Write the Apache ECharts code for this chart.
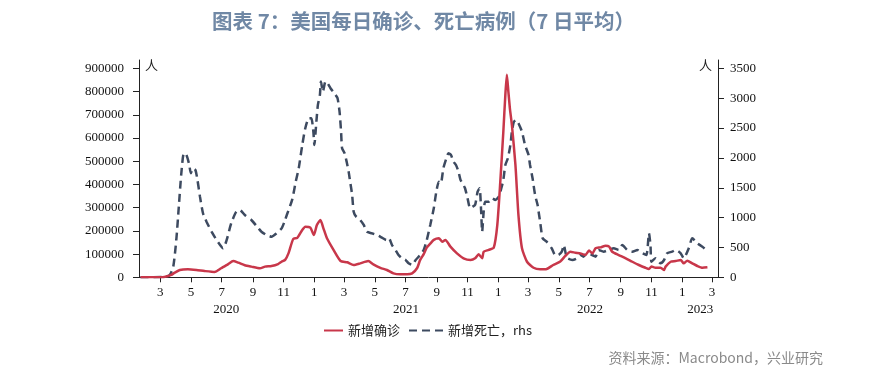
<!DOCTYPE html>
<html><head><meta charset="utf-8">
<script src="https://cdn.jsdelivr.net/npm/echarts@6/dist/echarts.min.js"></script>
<style>html,body{margin:0;padding:0;background:#fff}#c{width:885px;height:383px}</style>
</head><body><div id="c"></div>
<script>
const caseDates = ['2020-01-22','2020-02-15','2020-03-05','2020-03-17','2020-03-23','2020-03-30','2020-04-09','2020-04-25','2020-05-12','2020-05-28','2020-06-17','2020-06-30','2020-07-14','2020-07-24','2020-08-03','2020-08-16','2020-08-29','2020-09-15','2020-09-25','2020-10-08','2020-10-21','2020-10-28','2020-11-04','2020-11-11','2020-11-20','2020-11-28','2020-12-08','2020-12-14','2020-12-24','2020-12-31','2021-01-06','2021-01-13','2021-01-19','2021-01-26','2021-02-08','2021-02-22','2021-03-07','2021-03-20','2021-04-02','2021-04-18','2021-04-28','2021-05-12','2021-05-25','2021-06-07','2021-06-20','2021-07-04','2021-07-14','2021-07-24','2021-07-30','2021-08-06','2021-08-12','2021-08-19','2021-08-26','2021-09-05','2021-09-12','2021-09-18','2021-09-28','2021-10-11','2021-10-24','2021-11-07','2021-11-16','2021-11-23','2021-11-30','2021-12-03','2021-12-13','2021-12-23','2021-12-30','2022-01-05','2022-01-11','2022-01-15','2022-01-18','2022-01-21','2022-01-24','2022-01-28','2022-02-04','2022-02-10','2022-02-17','2022-02-27','2022-03-12','2022-03-25','2022-04-07','2022-04-20','2022-05-04','2022-05-14','2022-05-24','2022-06-03','2022-06-13','2022-06-23','2022-06-30','2022-07-07','2022-07-13','2022-07-23','2022-08-02','2022-08-09','2022-08-15','2022-08-28','2022-09-11','2022-09-24','2022-10-07','2022-10-20','2022-10-27','2022-11-01','2022-11-09','2022-11-19','2022-11-26','2022-11-29','2022-12-09','2022-12-19','2022-12-29','2023-01-04','2023-01-11','2023-01-21','2023-01-31','2023-02-10','2023-02-20'];
const caseValues = [0,0,300,5600,10000,20000,31500,34500,31500,27000,23000,38800,57000,70000,63000,52000,46000,39000,46000,48700,57000,67000,75000,105000,165000,170000,204000,218000,214000,182000,225000,247000,211000,168000,118000,70000,64600,53000,60000,70000,56000,41000,31500,17000,13000,13000,17000,40000,75000,100000,128000,145000,161000,168000,153000,161000,132000,103000,82000,75000,82000,99000,82000,110000,118000,128000,225000,412000,627000,786000,872000,800000,728000,656000,484000,268000,125000,67000,41000,34500,36000,53000,68000,92000,110000,106000,103000,96000,115000,103000,125000,129000,136000,132000,110000,96000,82000,67000,53000,41000,36000,46000,41000,41000,31500,46000,67000,70000,75000,60000,71500,60000,48700,41000,43000];
const deathDates = ['2020-01-22','2020-03-10','2020-03-20','2020-03-27','2020-04-02','2020-04-07','2020-04-12','2020-04-17','2020-04-22','2020-04-27','2020-05-01','2020-05-05','2020-05-10','2020-05-14','2020-05-19','2020-05-25','2020-06-01','2020-06-11','2020-06-21','2020-07-04','2020-07-11','2020-07-20','2020-07-30','2020-08-06','2020-08-16','2020-08-29','2020-09-12','2020-09-18','2020-09-28','2020-10-08','2020-10-18','2020-10-28','2020-11-03','2020-11-08','2020-11-18','2020-11-25','2020-12-01','2020-12-08','2020-12-14','2020-12-21','2020-12-26','2020-12-30','2021-01-01','2021-01-05','2021-01-08','2021-01-12','2021-01-14','2021-01-18','2021-01-23','2021-01-27','2021-02-02','2021-02-07','2021-02-12','2021-02-16','2021-02-20','2021-02-23','2021-02-25','2021-03-02','2021-03-06','2021-03-10','2021-03-13','2021-03-17','2021-03-20','2021-03-25','2021-04-02','2021-04-09','2021-04-15','2021-04-25','2021-05-05','2021-05-15','2021-05-24','2021-05-29','2021-06-04','2021-06-11','2021-06-17','2021-06-24','2021-07-01','2021-07-07','2021-07-14','2021-07-21','2021-07-30','2021-08-06','2021-08-12','2021-08-19','2021-08-26','2021-08-31','2021-09-05','2021-09-09','2021-09-14','2021-09-20','2021-09-24','2021-09-29','2021-10-04','2021-10-09','2021-10-14','2021-10-18','2021-10-22','2021-10-27','2021-11-01','2021-11-06','2021-11-11','2021-11-16','2021-11-21','2021-11-25','2021-11-28','2021-11-30','2021-12-03','2021-12-06','2021-12-13','2021-12-20','2021-12-26','2022-01-02','2022-01-07','2022-01-11','2022-01-15','2022-01-20','2022-01-25','2022-01-28','2022-02-01','2022-02-06','2022-02-10','2022-02-17','2022-02-23','2022-03-02','2022-03-05','2022-03-10','2022-03-15','2022-03-20','2022-03-22','2022-03-25','2022-03-30','2022-04-07','2022-04-17','2022-04-24','2022-04-30','2022-05-07','2022-05-11','2022-05-17','2022-05-28','2022-06-06','2022-06-13','2022-06-19','2022-06-26','2022-07-06','2022-07-13','2022-07-19','2022-07-29','2022-08-08','2022-08-18','2022-08-28','2022-09-04','2022-09-14','2022-09-24','2022-10-04','2022-10-14','2022-10-22','2022-10-27','2022-10-30','2022-11-01','2022-11-09','2022-11-19','2022-11-26','2022-12-02','2022-12-12','2022-12-19','2022-12-29','2023-01-04','2023-01-14','2023-01-21','2023-01-31','2023-02-10','2023-02-18'];
const deathValues = [0,5,38,178,625,1183,1743,2078,2050,1911,1743,1827,1798,1631,1351,1073,932,764,625,486,625,905,1099,1128,1044,960,821,764,709,680,737,820,940,1060,1300,1600,1827,2217,2497,2665,2665,2440,2217,2608,2888,3055,3278,3111,3278,3251,3167,3111,3055,3000,2776,2440,2162,2078,1938,1770,1602,1379,1099,1016,960,877,764,737,709,664,625,654,541,458,374,318,290,235,206,290,374,458,620,877,1156,1435,1602,1575,1827,1994,2078,2050,1938,1882,1770,1631,1575,1492,1324,1156,1183,1212,1435,1492,1099,764,1099,1267,1267,1324,1296,1351,1492,1631,1882,1994,2217,2440,2608,2636,2581,2440,2217,2050,1882,1659,1379,1212,1099,932,654,597,486,374,374,429,541,330,290,318,374,345,402,374,345,458,429,458,486,458,541,458,429,458,402,374,737,541,262,318,235,290,402,429,458,402,318,486,654,570,513,458];
const monthTicks = ['2020-03-01','2020-05-01','2020-07-01','2020-09-01','2020-11-01','2021-01-01','2021-03-01','2021-05-01','2021-07-01','2021-09-01','2021-11-01','2022-01-01','2022-03-01','2022-05-01','2022-07-01','2022-09-01','2022-11-01','2023-01-01','2023-03-01'];
const yearLabelDates = ['2020-07-10','2021-07-02','2022-07-02','2023-02-06'];
const leftTicks = [0,100000,200000,300000,400000,500000,600000,700000,800000,900000];
const rightTicks = [0,500,1000,1500,2000,2500,3000,3500];
const seriesNames = ['新增确诊','新增死亡，rhs'];

const toTs = s => { const p = s.split('-').map(Number); return new Date(p[0], p[1]-1, p[2]).getTime(); };
const xMin = toTs('2020-01-19'), xMax = toTs('2023-03-13');
const serif = 'Liberation Serif';
const cjk = 'Noto Sans CJK SC';
const axisCol = '#222';

const chart = echarts.init(document.getElementById('c'), null, {renderer:'canvas'});
const gridPos = {left:139, right:167, top:60, bottom:105.7};
const legendText = {fontFamily:cjk, fontSize:13, color:'#222'};
chart.setOption({
  animation:false,
  backgroundColor:'#fff',
  title:{text:'图表 7：美国每日确诊、死亡病例（7 日平均）', left:207, top:6,
    textStyle:{fontFamily:cjk, fontSize:20.5, fontWeight:'bold', color:'#7088A5'}},
  grid:[Object.assign({}, gridPos), Object.assign({}, gridPos)],
  legend:[
    {data:[seriesNames[0]], left:318, top:319, itemWidth:19, itemHeight:10, itemStyle:{opacity:0},
      textStyle:legendText},
    {data:[seriesNames[1]], left:403, top:319, itemWidth:34, itemHeight:10, itemStyle:{opacity:0},
      textStyle:legendText}
  ],
  xAxis:[
    {type:'value', gridIndex:0, min:xMin, max:xMax, position:'bottom',
      axisLine:{lineStyle:{color:axisCol, width:1}},
      axisTick:{show:true, length:5, lineStyle:{color:axisCol}, customValues:monthTicks.map(toTs)},
      splitLine:{show:false},
      axisLabel:{customValues:monthTicks.map(toTs), margin:9, fontFamily:serif, fontSize:13, color:'#111',
        formatter:v => String(new Date(v).getMonth()+1)}},
    {type:'value', gridIndex:1, min:xMin, max:xMax, position:'bottom',
      axisLine:{show:false}, axisTick:{show:false}, splitLine:{show:false},
      axisLabel:{customValues:yearLabelDates.map(toTs), margin:26, fontFamily:serif, fontSize:13, color:'#111',
        formatter:v => String(new Date(v).getFullYear())}}
  ],
  yAxis:[
    {type:'value', gridIndex:0, min:0, max:936000, position:'left',
      axisLine:{show:true, lineStyle:{color:axisCol}},
      axisTick:{show:true, length:6, lineStyle:{color:axisCol}, customValues:leftTicks},
      splitLine:{show:false},
      axisLabel:{customValues:leftTicks, margin:15, fontFamily:serif, fontSize:13, color:'#111', formatter:v => String(v)}},
    {type:'value', gridIndex:0, min:0, max:3640, position:'right',
      axisLine:{show:true, lineStyle:{color:axisCol}},
      axisTick:{show:true, length:6, lineStyle:{color:axisCol}, customValues:rightTicks},
      splitLine:{show:false},
      axisLabel:{customValues:rightTicks, margin:12, fontFamily:serif, fontSize:13, color:'#111', formatter:v => String(v)}},
    {type:'value', gridIndex:1, show:false}
  ],
  series:[
    {name:seriesNames[0], type:'line', xAxisIndex:0, yAxisIndex:0, symbol:'none', smooth:0.2, z:3,
      lineStyle:{color:'#C8374A', width:2.5}, itemStyle:{color:'#C8374A'},
      data:caseDates.map((d,i)=>[toTs(d), caseValues[i]])},
    {name:seriesNames[1], type:'line', xAxisIndex:0, yAxisIndex:1, symbol:'none', smooth:0.2, z:2,
      lineStyle:{color:'#3D4A60', width:2.5, type:[8,5]}, itemStyle:{color:'#3D4A60'},
      data:deathDates.map((d,i)=>[toTs(d), deathValues[i]])}
  ],
  graphic:[
    {type:'text', left:145, top:59, style:{text:'人', font:'13px "Noto Sans CJK SC"', fill:'#222'}},
    {type:'text', left:699, top:59, style:{text:'人', font:'13px "Noto Sans CJK SC"', fill:'#222'}},
    {type:'text', right:62, top:351, style:{text:'资料来源：Macrobond，兴业研究', font:'14px "Noto Sans CJK SC"', fill:'#8a8a8a'}}
  ]
});
</script></body></html>
